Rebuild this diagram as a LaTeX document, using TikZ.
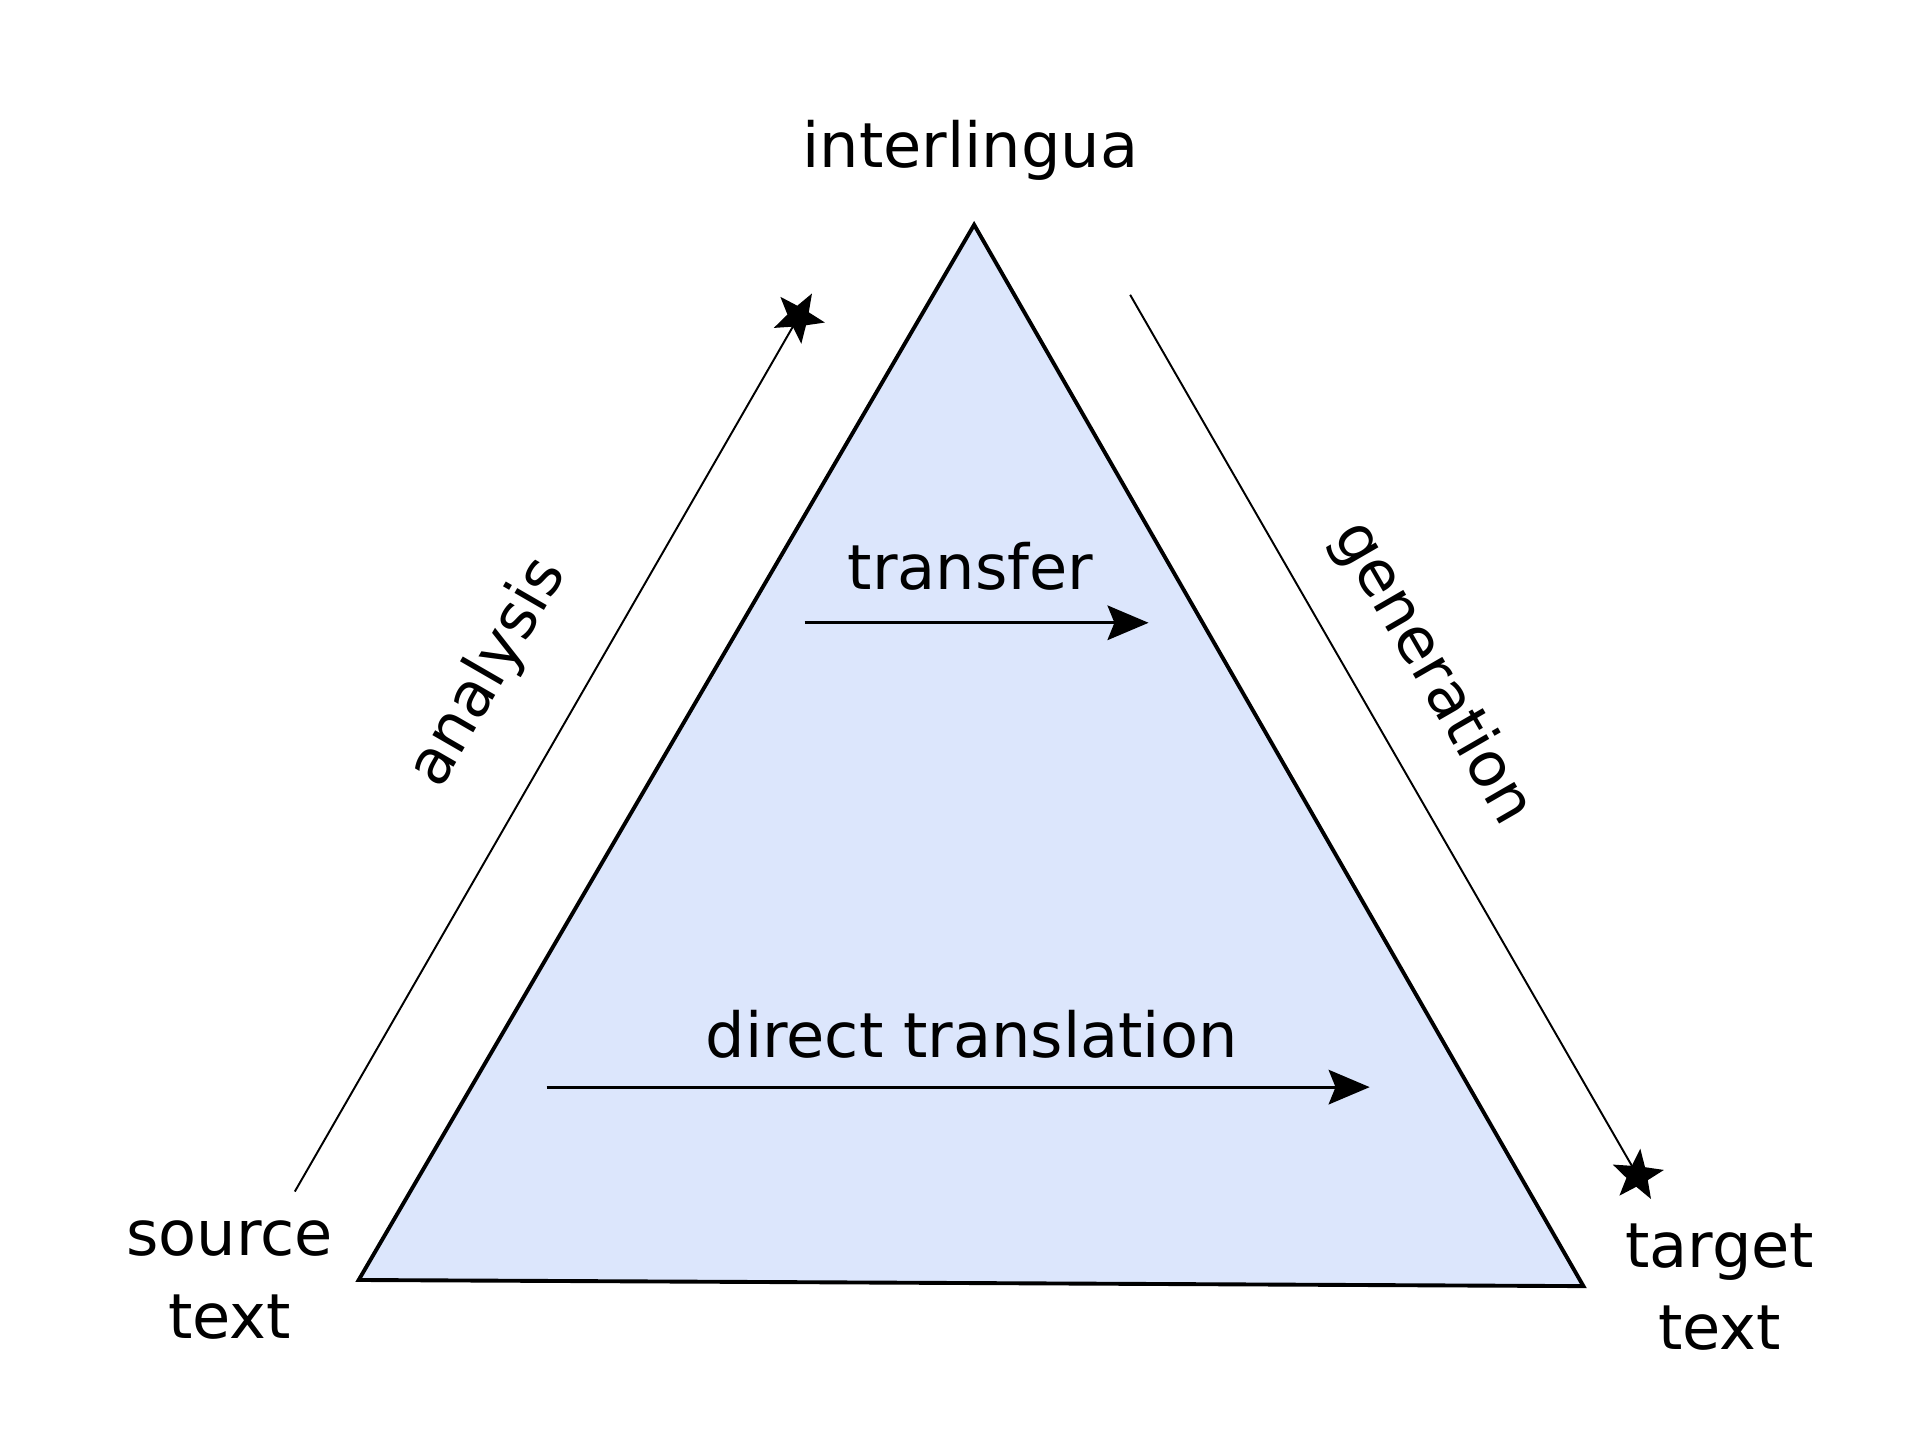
\documentclass[tikz,border=0pt]{standalone}
\usepackage{fontspec}
\setmainfont{DejaVu Sans}
\usetikzlibrary{shapes.geometric,arrows.meta}
\definecolor{trifill}{HTML}{DCE6FC}
\begin{document}
\begin{tikzpicture}[x=0.01cm,y=-0.01cm,
  lbl/.style={font=\fontsize{14.4}{19}\selectfont, inner sep=0pt},
  side/.style={line width=0.45pt},
  flow/.style={line width=0.65pt,-{Stealth[length=9.5pt,width=8pt,inset=1.6pt]}},
  startip/.style={star, star points=5, star point ratio=2.4, fill=black, draw=none, minimum size=0.44cm, inner sep=0pt}]
\useasboundingbox (0,0) rectangle (1563,1183);
\coordinate (top) at (793,183);
\coordinate (bl) at (292,1042);
\coordinate (br) at (1289,1047);
\draw[fill=trifill, line width=0.9pt, line join=miter] (top) -- (br) -- (bl) -- cycle;
\node[lbl] (inter) at (790,122) {interlingua};
\node[lbl, align=center] (src) at (187,1042) {source\\text};
\node[lbl, align=center] (tgt) at (1400,1048) {target\\text};
\node[lbl] (trans) at (790,461) {transfer};
\node[lbl] (direct) at (791,842) {direct translation};
\node[lbl, rotate=60] (ana) at (398,548) {analysis};
\node[lbl, rotate=-60] (gen) at (1166,548) {generation};
\coordinate (a0) at (240,970);
\coordinate (a1) at (650,258);
\coordinate (g0) at (920,240);
\coordinate (g1) at (1333,957);
\draw[side] (a0) -- (a1);
\draw[side] (g0) -- (g1);
\node[startip, rotate=-30] (sa) at (a1) {};
\node[startip, rotate=-6] (sg) at (g1) {};
\coordinate (t0) at (655,507);
\coordinate (t1) at (935,507);
\coordinate (d0) at (445,885);
\coordinate (d1) at (1115,885);
\draw[flow] (t0) -- (t1);
\draw[flow] (d0) -- (d1);
\end{tikzpicture}
\end{document}
